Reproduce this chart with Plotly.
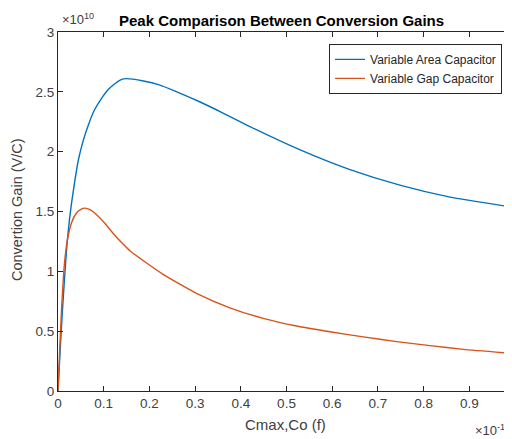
import plotly.graph_objects as go

# x in units of 1e-10 F, y in units of 1e10 V/C
area_x = [0, 0.005, 0.01, 0.015, 0.02, 0.025, 0.03, 0.037, 0.044, 0.055, 0.068, 0.08,
          0.096, 0.11, 0.125, 0.137, 0.15, 0.187, 0.22, 0.26, 0.311, 0.36, 0.42, 0.53,
          0.639, 0.748, 0.858, 0.9934]
area_y = [0, 0.36, 0.69, 0.98, 1.24, 1.43, 1.58, 1.76, 1.92, 2.09, 2.24, 2.35,
          2.45, 2.52, 2.57, 2.60, 2.61, 2.59, 2.56, 2.50, 2.415, 2.325, 2.21, 2.015,
          1.85, 1.72, 1.62, 1.537]

gap_x = [0, 0.004, 0.008, 0.012, 0.015, 0.02, 0.03, 0.04, 0.05, 0.059, 0.07, 0.085,
         0.103, 0.12, 0.139, 0.158, 0.19, 0.23, 0.303, 0.376, 0.449, 0.522, 0.595,
         0.668, 0.741, 0.814, 0.887, 0.9934]
gap_y = [0, 0.37, 0.70, 0.96, 1.10, 1.25, 1.41, 1.485, 1.518, 1.528, 1.515, 1.47,
         1.40, 1.32, 1.24, 1.17, 1.08, 0.975, 0.816, 0.695, 0.607, 0.543, 0.495,
         0.452, 0.413, 0.379, 0.348, 0.315]

x_ticks = [0, 0.1, 0.2, 0.3, 0.4, 0.5, 0.6, 0.7, 0.8, 0.9, 1.0]
x_tick_labels = ["0", "0.1", "0.2", "0.3", "0.4", "0.5", "0.6", "0.7", "0.8", "0.9", "1"]
y_ticks = [0, 0.5, 1, 1.5, 2, 2.5, 3]
y_tick_labels = ["0", "0.5", "1", "1.5", "2", "2.5", "3"]

FONT = "Liberation Sans, Arial, sans-serif"
AX = "#262626"
TXT = "#404040"

fig = go.Figure()
fig.add_trace(go.Scatter(x=area_x, y=area_y, mode="lines", name="Variable Area Capacitor",
                         line=dict(color="#0072BD", width=1.4, shape="spline", smoothing=0.5)))
fig.add_trace(go.Scatter(x=gap_x, y=gap_y, mode="lines", name="Variable Gap Capacitor",
                         yaxis="y2",
                         line=dict(color="#D95319", width=1.4, shape="spline", smoothing=0.5)))

# page body has an 8px margin, so the figure is sized/offset to fill the 512x439 window
fig.update_layout(
    width=504, height=431,
    margin=dict(l=50, r=0, t=24, b=48),
    paper_bgcolor="white", plot_bgcolor="white",
    font=dict(family=FONT, size=13, color=TXT),
    showlegend=True,
    legend=dict(x=0.978, y=0.967, xanchor="right", yanchor="top",
                bgcolor="white", bordercolor=AX, borderwidth=1,
                font=dict(family=FONT, size=12, color="#262626"),
                tracegroupgap=0, itemwidth=30),
    xaxis=dict(range=[0, 0.9934], tickvals=x_ticks, ticktext=x_tick_labels,
               automargin=False,
               showgrid=False, zeroline=False, showline=True, linecolor=AX, linewidth=1,
               mirror="ticks", ticks="inside", ticklen=5, tickcolor=AX,
               tickfont=dict(family=FONT, size=13.5, color=TXT)),
    yaxis=dict(range=[0, 3], tickvals=y_ticks, ticktext=y_tick_labels,
               automargin=False,
               showgrid=False, zeroline=False, showline=True, linecolor=AX, linewidth=1,
               mirror=False, ticks="inside", ticklen=5, tickcolor=AX,
               tickfont=dict(family=FONT, size=13.5, color=TXT)),
    yaxis2=dict(range=[0, 3], tickvals=y_ticks, overlaying="y", side="right",
                automargin=False,
                showgrid=False, zeroline=False, showline=False, ticks="inside",
                ticklen=5, tickcolor=AX, showticklabels=False),
    annotations=[
        dict(text="<b>Peak Comparison Between Conversion Gains</b>", xref="paper", yref="paper",
             x=0.493, y=1.0334, xanchor="center", yanchor="middle", showarrow=False,
             font=dict(family=FONT, size=15, color="#000000")),
        dict(text="×10<sup>10</sup>", xref="paper", yref="paper",
             x=0.004, y=1.036, xanchor="left", yanchor="middle", showarrow=False,
             font=dict(family=FONT, size=13, color=TXT)),
        dict(text="Cmax,Co (f)", xref="paper", yref="paper",
             x=0.502, y=-0.0947, xanchor="center", yanchor="middle", showarrow=False,
             font=dict(family=FONT, size=15, color=TXT)),
        dict(text="×10<sup>-10</sup>", xref="paper", yref="paper",
             x=0.914, y=-0.11, xanchor="left", yanchor="middle", showarrow=False,
             font=dict(family=FONT, size=13, color=TXT)),
        dict(text="Convertion Gain (V/C)", xref="paper", yref="paper",
             x=-0.0903, y=0.504, xanchor="center", yanchor="middle", showarrow=False,
             textangle=-90, font=dict(family=FONT, size=14.5, color=TXT)),
    ],
)

fig.write_html("out.html")
